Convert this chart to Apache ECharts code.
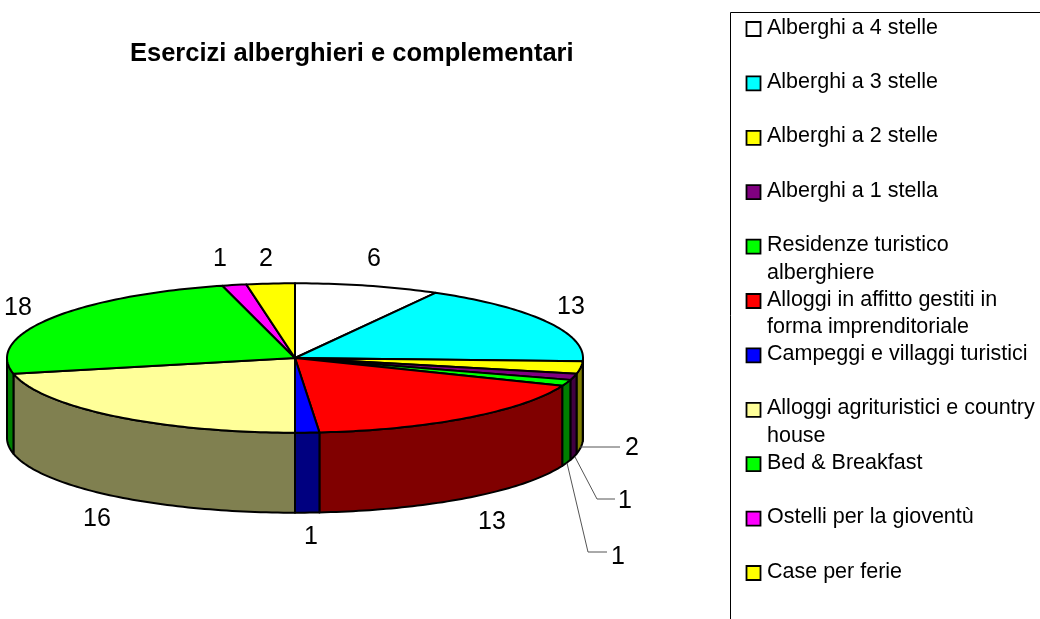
<!DOCTYPE html>
<html><head><meta charset="utf-8">
<style>html,body{margin:0;padding:0;background:#fff}#c{width:1040px;height:619px}</style>
<script src="https://cdn.jsdelivr.net/npm/echarts@6/dist/echarts.min.js"></script>
</head><body><div id="c"></div>
<script>
// ---- data ----
const categories = ['Alberghi a 4 stelle','Alberghi a 3 stelle','Alberghi a 2 stelle','Alberghi a 1 stella','Residenze turistico\nalberghiere','Alloggi in affitto gestiti in\nforma imprenditoriale','Campeggi e villaggi turistici','Alloggi agrituristici e country\nhouse','Bed & Breakfast','Ostelli per la gioventù','Case per ferie'];
const values = [6,13,2,1,1,13,1,16,18,1,2];
const colors = ['#ffffff','#00ffff','#ffff00','#800080','#00ff00','#ff0000','#0000ff','#ffff99','#00ff00','#ff00ff','#ffff00'];
const wallColors = ['#808080','#008080','#808000','#400040','#008000','#800000','#000080','#808050','#008000','#800080','#808000'];
// ---- layout ----
const pie = {cx:295, cy:358, rx:288, ry:74.7, depth:80};
const labelAnchors = [[374,259],[571,307],[632,448],[625,501],[618,557],[492,522],[311,537],[97,519],[18,308],[220,259],[266,259]];
const leaders = {2:[[580,447],[620,447]],3:[[575,457],[597,499],[615,499]],4:[[567,463],[588,552],[607,552]]};
const legendBox = {x:730.5, y:12.5, right:1040, bottom:619, swatchX:746.5, textX:767, firstY:28, rowGap:54.4, fontSize:21.5};

const total = values.reduce((a,b)=>a+b,0);
const starts = []; { let s=0; values.forEach(v=>{starts.push(s); s+=v;}); }
const ang = v => v/total*Math.PI*2;
const pt = (t,dy=0)=>[pie.cx+pie.rx*Math.sin(t), pie.cy-pie.ry*Math.cos(t)+dy];
function arc(a,b,dy=0){const n=Math.max(2,Math.ceil((b-a)/0.02)),o=[];for(let i=0;i<=n;i++)o.push(pt(a+(b-a)*i/n,dy));return o;}
const edge = {stroke:'#000',lineWidth:2,lineJoin:'round'};

function renderPie(params, api){
  const i = params.dataIndex, a = ang(starts[i]), b = ang(starts[i]+api.value(0));
  const children = [];
  // visible wall: front half of the rim only
  const wa = Math.max(a,Math.PI/2), wb = Math.min(b,Math.PI*1.5);
  if (wb>wa){
    const top = arc(wa,wb), bot = arc(wa,wb,pie.depth).reverse();
    children.push({type:'polygon',shape:{points:top.concat(bot)},style:Object.assign({fill:wallColors[i]},edge)});
  }
  return {type:'group',children};
}
function renderTop(params, api){
  const i = params.dataIndex, a = ang(starts[i]), b = ang(starts[i]+api.value(0));
  const children = [{type:'polygon',shape:{points:[[pie.cx,pie.cy]].concat(arc(a,b))},style:Object.assign({fill:colors[i]},edge)}];
  if (leaders[i]) children.push({type:'polyline',shape:{points:leaders[i]},style:{fill:null,stroke:'#555',lineWidth:1}});
  children.push({type:'text',x:labelAnchors[i][0],y:labelAnchors[i][1],style:{text:String(api.value(0)),fontFamily:'Liberation Sans',fontSize:25,fill:'#000',align:'center',verticalAlign:'middle'}});
  return {type:'group',children};
}
function renderLegend(params){
  const i = params.dataIndex, y = legendBox.firstY+i*legendBox.rowGap;
  return {type:'group',children:[
    {type:'rect',shape:{x:legendBox.swatchX,y:y-6,width:14,height:14},style:{fill:colors[i],stroke:'#000',lineWidth:1.8}},
    {type:'text',x:legendBox.textX,y:y-14,style:{text:categories[i],fontFamily:'Liberation Sans',fontSize:legendBox.fontSize,lineHeight:27.5,fill:'#000',align:'left',verticalAlign:'top'}}
  ]};
}
const chart = echarts.init(document.getElementById('c'),null,{renderer:'canvas'});
chart.setOption({
  backgroundColor:'#fff', animation:false,
  title:{text:'Esercizi alberghieri e complementari',left:130,top:41,padding:0,textStyle:{fontFamily:'Liberation Sans',fontSize:25.5,fontWeight:'bold',color:'#000'}},
  graphic:[{type:'polyline',silent:true,shape:{points:[[legendBox.right,legendBox.y],[legendBox.x,legendBox.y],[legendBox.x,legendBox.bottom]]},style:{fill:null,stroke:'#000',lineWidth:1}}],
  series:[
    {type:'custom',coordinateSystem:'none',silent:true,renderItem:renderPie,data:values.map(v=>[v]),z:1},
    {type:'custom',coordinateSystem:'none',silent:true,renderItem:renderTop,data:values.map(v=>[v]),z:2},
    {type:'custom',coordinateSystem:'none',silent:true,renderItem:renderLegend,data:categories.map((c,i)=>[i]),z:3}
  ]
});
</script></body></html>
